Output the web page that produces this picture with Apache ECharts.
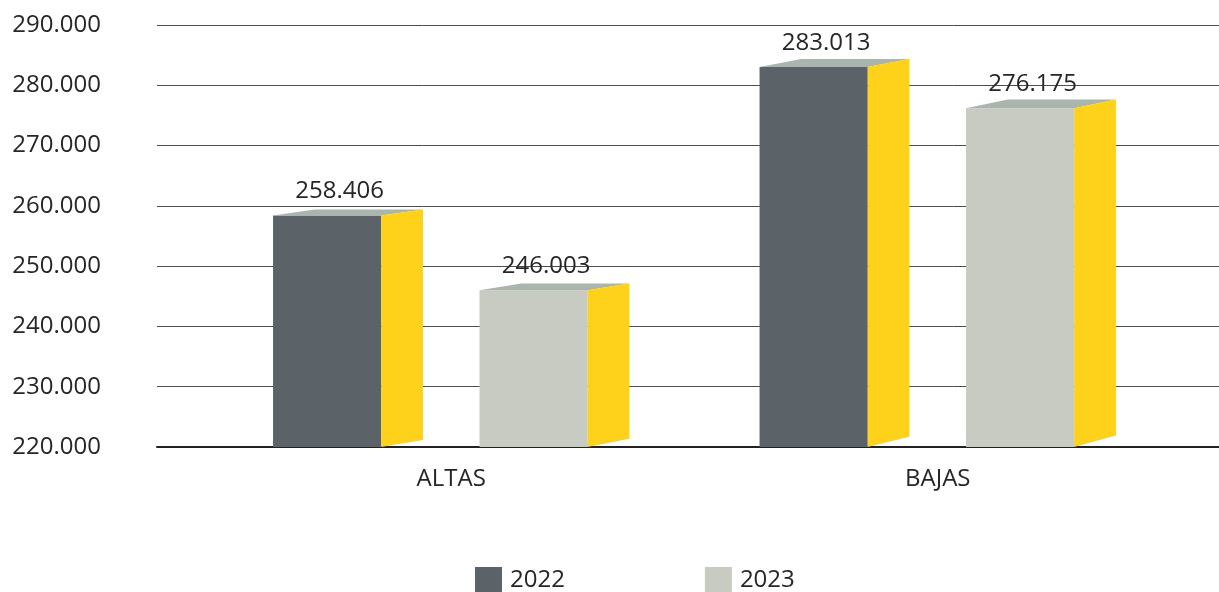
<!DOCTYPE html>
<html>
<head>
<meta charset="utf-8">
<script src="https://cdn.jsdelivr.net/npm/echarts@6/dist/echarts.min.js"></script>
<style>
  html, body { margin: 0; padding: 0; background: #ffffff; }
  #chart { width: 1219px; height: 592px; }
</style>
</head>
<body>
<div id="chart"></div>
<script>
// Movimientos por año
const categories = ['ALTAS', 'BAJAS'];
const years = ['2022', '2023'];
const values2022 = [258406, 283013];
const values2023 = [246003, 276175];

const axisMin = 220000;
const axisMax = 290000;
const axisStep = 10000;

const textColor = '#262626';
const font = '"Open Sans", "Noto Sans", sans-serif';
const frontColors = ['#5b6268', '#c8cbc1'];
const topColor = '#aab5ad';
const sideColor = '#fed11a';

function fmt(v) {
  return String(Math.round(v)).replace(/\B(?=(\d{3})+(?!\d))/g, '.');
}

// Extruded box drawn for each value: front face, lit top and yellow side.
function boxRenderer(slot) {
  return function (params, api) {
    const idx = api.value(0);
    const val = api.value(1);
    const topPt = api.coord([idx, val]);
    const basePt = api.coord([idx, axisMin]);
    const band = api.size([1, 0])[0];
    const cs = params.coordSys;

    const boxW = 0.3082 * band;
    const frontW = 0.2224 * band;
    const depth = boxW - frontW;
    const boxCenter = topPt[0] + slot * 0.2122 * band;
    const left = boxCenter - boxW / 2;
    const right = left + frontW;
    const top = topPt[1];
    const bot = basePt[1];

    // slight perspective: the receding edges rise more further to the right
    const t = (right - cs.x) / cs.width;
    const dyTop = -(5.2 + 4.2 * t);
    const dyBot = -(5.8 + 6.4 * t);

    return {
      type: 'group',
      children: [
        {
          type: 'rect',
          shape: { x: left, y: top, width: frontW, height: bot - top },
          style: { fill: frontColors[params.seriesIndex] }
        },
        {
          type: 'polygon',
          shape: { points: [[left, top], [left + depth, top + dyTop], [right + depth, top + dyTop], [right, top]] },
          style: { fill: topColor }
        },
        {
          type: 'polygon',
          shape: { points: [[right, top], [right + depth, top + dyTop], [right + depth, bot + dyBot], [right, bot]] },
          style: { fill: sideColor }
        },
        {
          type: 'text',
          style: {
            text: fmt(val),
            x: left + frontW / 2 + depth * 0.3,
            y: top - 24,
            align: 'center',
            verticalAlign: 'middle',
            fill: textColor,
            fontSize: 24,
            fontFamily: font
          }
        }
      ]
    };
  };
}

const chart = echarts.init(document.getElementById('chart'), null, { renderer: 'canvas' });

chart.setOption({
  backgroundColor: '#ffffff',
  animation: false,
  textStyle: { fontFamily: font },
  grid: [
    { left: 157, right: 0, top: 25, bottom: 145 },
    { left: 208, right: 38, top: 25, bottom: 145 }
  ],
  xAxis: [
    {
      type: 'value', gridIndex: 0, min: 0, max: 1,
      axisLine: { show: true, onZero: false, lineStyle: { color: '#222222', width: 2 } },
      axisTick: { show: false }, axisLabel: { show: false }, splitLine: { show: false }
    },
    {
      type: 'category', gridIndex: 1, data: categories,
      axisLine: { show: false }, axisTick: { show: false },
      axisLabel: { color: textColor, fontSize: 24, fontFamily: font, margin: 20 }
    }
  ],
  yAxis: [
    {
      type: 'value', gridIndex: 0, min: axisMin, max: axisMax, interval: axisStep,
      axisLine: { show: false }, axisTick: { show: false },
      axisLabel: { color: textColor, fontSize: 24, fontFamily: font, margin: 56, formatter: fmt },
      splitLine: { show: true, lineStyle: { color: '#4d4d4d', width: 1 } }
    },
    {
      type: 'value', gridIndex: 1, min: axisMin, max: axisMax, interval: axisStep,
      show: false, splitLine: { show: false }
    }
  ],
  legend: {
    data: years,
    left: 470,
    top: 562,
    icon: 'rect',
    itemWidth: 27,
    itemHeight: 26,
    itemGap: 140,
    textStyle: { color: textColor, fontSize: 24, fontFamily: font, padding: [0, 0, 0, 3] }
  },
  series: [
    {
      name: years[0], type: 'custom', xAxisIndex: 1, yAxisIndex: 1,
      itemStyle: { color: frontColors[0] },
      renderItem: boxRenderer(-1),
      data: values2022.map((v, i) => [i, v])
    },
    {
      name: years[1], type: 'custom', xAxisIndex: 1, yAxisIndex: 1,
      itemStyle: { color: frontColors[1] },
      renderItem: boxRenderer(1),
      data: values2023.map((v, i) => [i, v])
    }
  ]
});
</script>
</body>
</html>
